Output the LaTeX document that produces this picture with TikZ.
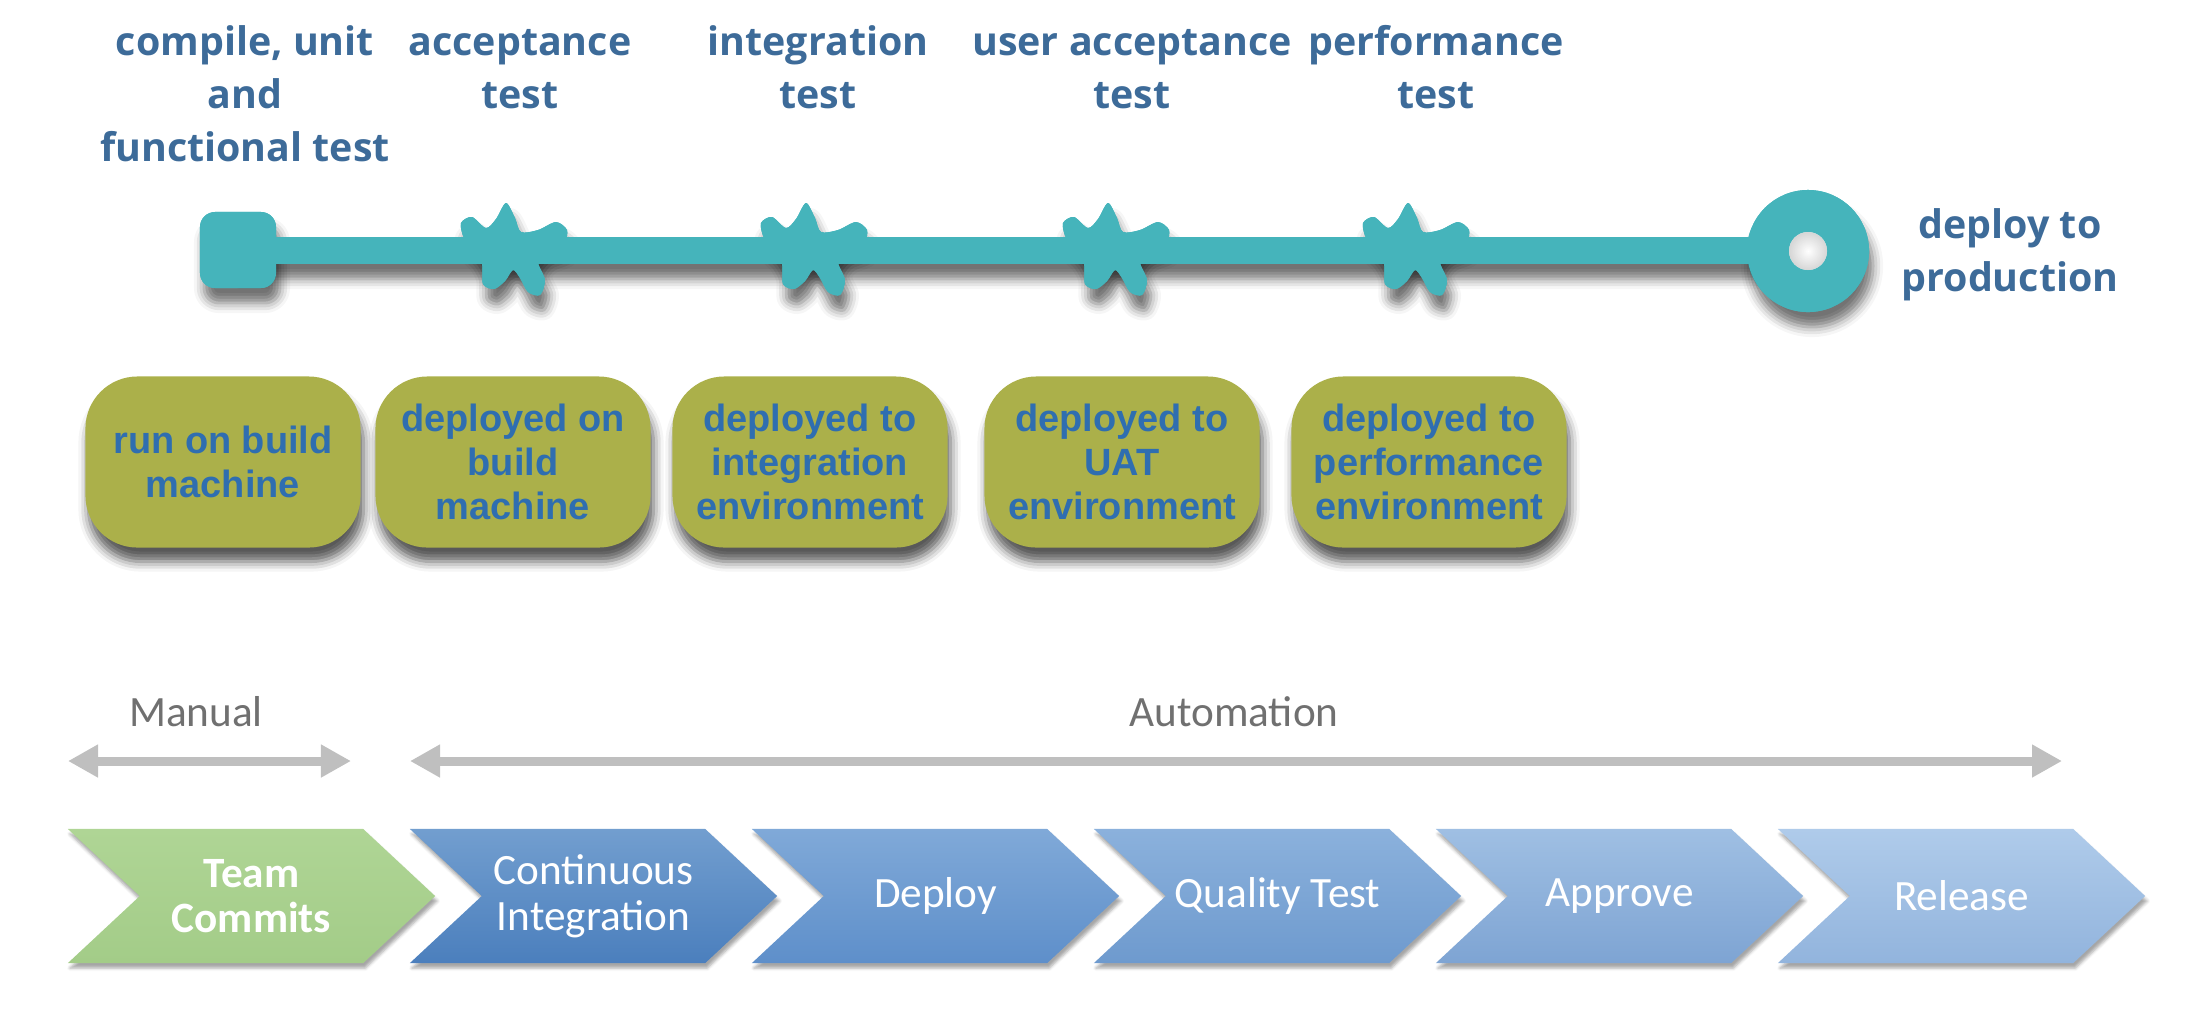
\documentclass[tikz,border=0pt]{standalone}
\usepackage{fontspec}
\setmainfont{Open Sans}
\newfontfamily\calfont{Carlito}
\newfontfamily\arialfont{Liberation Sans}
\usetikzlibrary{shapes.symbols,arrows.meta,shadows.blur}

\definecolor{pipeteal}{HTML}{45B4BB}
\definecolor{stagetext}{HTML}{3D6B99}
\definecolor{envolive}{HTML}{ABB04A}
\definecolor{envtext}{HTML}{2F6EB0}
\definecolor{spangray}{HTML}{BFBFBF}
\definecolor{phasegray}{HTML}{707070}
\definecolor{teamA}{HTML}{AFD595}\definecolor{teamB}{HTML}{A3CC88}
\definecolor{ciA}{HTML}{729ECF}\definecolor{ciB}{HTML}{4B7FBD}
\definecolor{depA}{HTML}{80A9D8}\definecolor{depB}{HTML}{5E8FCA}
\definecolor{qtA}{HTML}{8BB1DC}\definecolor{qtB}{HTML}{6E9ACE}
\definecolor{appA}{HTML}{9FBFE3}\definecolor{appB}{HTML}{7EA4D3}
\definecolor{relA}{HTML}{AFCBEA}\definecolor{relB}{HTML}{92B4DD}

\begin{document}
\begin{tikzpicture}[x=0.01cm,y=-0.01cm]
      \tikzset{stage/.style={anchor=north, inner sep=0pt, align=center, text=stagetext, font=\fontsize{11.2}{15}\selectfont\bfseries},
        tl1/.style={fill=pipeteal, blur shadow={shadow xshift=0.04cm, shadow yshift=-0.15cm, shadow blur radius=0.1cm, shadow opacity=55}},
        tl2/.style={fill=pipeteal},
        envbox/.style={rounded corners=0.52cm, fill=envolive, minimum width=2.75cm, minimum height=1.71cm, inner sep=0pt, align=center, text=envtext, font=\arialfont\fontsize{10.8}{12.5}\selectfont\bfseries, blur shadow={shadow xshift=0.03cm, shadow yshift=-0.14cm, shadow blur radius=0.1cm, shadow opacity=65}},
        chev/.style={signal, signal from=west, signal to=east, signal pointer angle=86, minimum width=3.67cm, minimum height=1.34cm, inner sep=0pt, align=center, text=white, font=\calfont\fontsize{12.3}{13}\selectfont, blur shadow={shadow xshift=0.02cm, shadow yshift=-0.05cm, shadow blur radius=0.03cm, shadow opacity=35}},
        span/.style={line width=0.09cm, draw=spangray, {Triangle[length=0.3cm,width=0.31cm]}-{Triangle[length=0.3cm,width=0.31cm]}},
        phase/.style={text=phasegray, font=\calfont\fontsize{12.3}{14}\selectfont}}

      \useasboundingbox (0,0) rectangle (2204,1008);

      \node[stage] (s-unit) at (245,18) {\strut compile, unit\\and\\functional test};
      \node[stage] (s-acc) at (520,18) {\strut acceptance\\test};
      \node[stage] (s-int) at (818,18) {\strut integration\\test};
      \node[stage] (s-uat) at (1132,18) {\strut user acceptance\\test};
      \node[stage] (s-perf) at (1436,18) {\strut performance\\test};
      \node[stage] (s-prod) at (2010,201) {\strut deploy to\\production};

      \foreach \pass in {1,2} {
        \node[tl\pass, rounded corners=0.15cm, minimum size=0.76cm, inner sep=0pt] (commit) at (238,250) {};
        \node[tl\pass, circle, minimum size=1.22cm, inner sep=0pt] (prod) at (1808,251) {};
        \path[tl\pass] ([yshift=0.13cm]commit.center) rectangle ([yshift=-0.13cm]prod.center);
        \foreach \sx in {508,808,1110,1410}
          \path[tl\pass, shift={(\sx,250)}] plot[smooth cycle] coordinates {(-2,-47) (7,-32) (13,-18) (30,-20) (48,-28) (59,-20) (56,-8) (38,0) (30,12) (37,30) (32,45) (20,42) (12,28) (5,20) (-3,31) (-14,39) (-25,34) (-26,14) (-33,0) (-44,-12) (-47,-27) (-36,-33) (-22,-22) (-12,-31)};
      }
      \fill[white] (prod.center) circle[radius=19];
      \shade[inner color=white, outer color=gray!40, opacity=0.8] (prod.center) circle[radius=19];

      \node[envbox] (e-build) at (223,462) {run on build\\machine};
      \node[envbox] (e-dbuild) at (513,462) {deployed on\\build\\machine};
      \node[envbox] (e-int) at (810,462) {deployed to\\integration\\environment};
      \node[envbox] (e-uat) at (1122,462) {deployed to\\UAT\\environment};
      \node[envbox] (e-perf) at (1429,462) {deployed to\\performance\\environment};

      \coordinate (m-l) at (68,761);
      \coordinate (m-r) at (351,761);
      \coordinate (a-l) at (410,761);
      \coordinate (a-r) at (2062,761);
      \draw[span] (m-l) -- (m-r);
      \draw[span] (a-l) -- (a-r);
      \node[phase] (manual) at (196,712) {Manual};
      \node[phase] (auto) at (1234,712) {Automation};

      \node[chev, top color=teamA, bottom color=teamB, font=\calfont\fontsize{12.3}{13}\selectfont\bfseries] (c-team) at (251.5,896) {Team\\Commits};
      \node[chev, top color=ciA, bottom color=ciB] (c-ci) at (593.5,896) {Continuous\\Integration};
      \node[chev, top color=depA, bottom color=depB] (c-dep) at (935.5,896) {Deploy};
      \node[chev, top color=qtA, bottom color=qtB] (c-qt) at (1277.5,896) {Quality Test};
      \node[chev, top color=appA, bottom color=appB] (c-app) at (1619.5,896) {Approve};
      \node[chev, top color=relA, bottom color=relB] (c-rel) at (1961.5,896) {Release};
\end{tikzpicture}
\end{document}
